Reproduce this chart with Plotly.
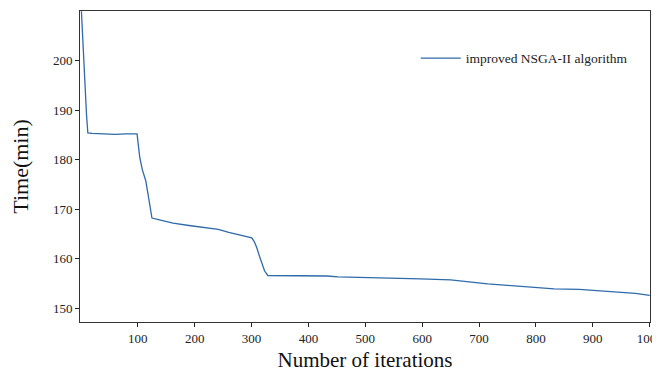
import plotly.graph_objects as go

iterations = [1, 3.5, 7, 10, 12.3, 20, 40, 60, 80, 98.8, 101, 103.5, 108, 114, 118, 121, 125,
              140, 162, 190, 220, 241.6, 260, 270, 285, 300.5, 305, 309, 314, 318, 323, 328.7,
              360, 400, 432.8, 452, 500, 550, 597, 650, 680, 715, 750, 774, 800, 832, 876, 900,
              950, 975, 1000]
time_min = [210.0, 203.4, 195.0, 189.0, 185.4, 185.3, 185.2, 185.1, 185.2, 185.2, 183.0, 180.5, 178.0,
            175.8, 173.1, 171.0, 168.2, 167.8, 167.2, 166.7, 166.3, 165.9, 165.3, 165.0, 164.7, 164.2,
            163.4, 162.3, 160.5, 159.0, 157.5, 156.6, 156.6, 156.6, 156.5, 156.3, 156.2, 156.1, 155.9,
            155.7, 155.3, 154.9, 154.6, 154.4, 154.2, 153.9, 153.8, 153.6, 153.2, 153.0, 152.6]

x_ticks = [100, 200, 300, 400, 500, 600, 700, 800, 900, 1000]
y_ticks = [150, 160, 170, 180, 190, 200]

fig = go.Figure()
fig.add_trace(go.Scatter(x=iterations, y=time_min, mode="lines",
                         name="improved NSGA-II algorithm",
                         line=dict(color="#2f6aab", width=1.3)))

font = "Liberation Serif, Times New Roman, serif"
fig.update_layout(
    width=652, height=364,
    margin=dict(l=72, r=9.5, t=2.5, b=50.3),
    plot_bgcolor="white", paper_bgcolor="white",
    font=dict(family=font, size=13, color="#222"),
    showlegend=True,
    legend=dict(x=0.589, y=0.848, xanchor="left", yanchor="middle", itemwidth=40,
                bgcolor="rgba(0,0,0,0)", font=dict(family=font, size=13.5, color="#222")),
    xaxis=dict(range=[-1.5, 1000.5], tickvals=x_ticks, ticks="outside", ticklen=4,
               tickcolor="#222", showgrid=False, zeroline=False, showline=True,
               linecolor="#333", linewidth=1, mirror=True, automargin=False,
               ticklabeloverflow="allow",
               title=dict(text="Number of iterations", font=dict(family=font, size=21, color="#111"),
                          standoff=7)),
    yaxis=dict(range=[147.2, 210.05], tickvals=y_ticks, ticks="outside", ticklen=4,
               tickcolor="#222", showgrid=False, zeroline=False, showline=True,
               linecolor="#333", linewidth=1, mirror=True, automargin=False,
               title=dict(text="Time(min)", font=dict(family=font, size=22, color="#111"),
                          standoff=19)),
)

fig.write_html("out.html")
